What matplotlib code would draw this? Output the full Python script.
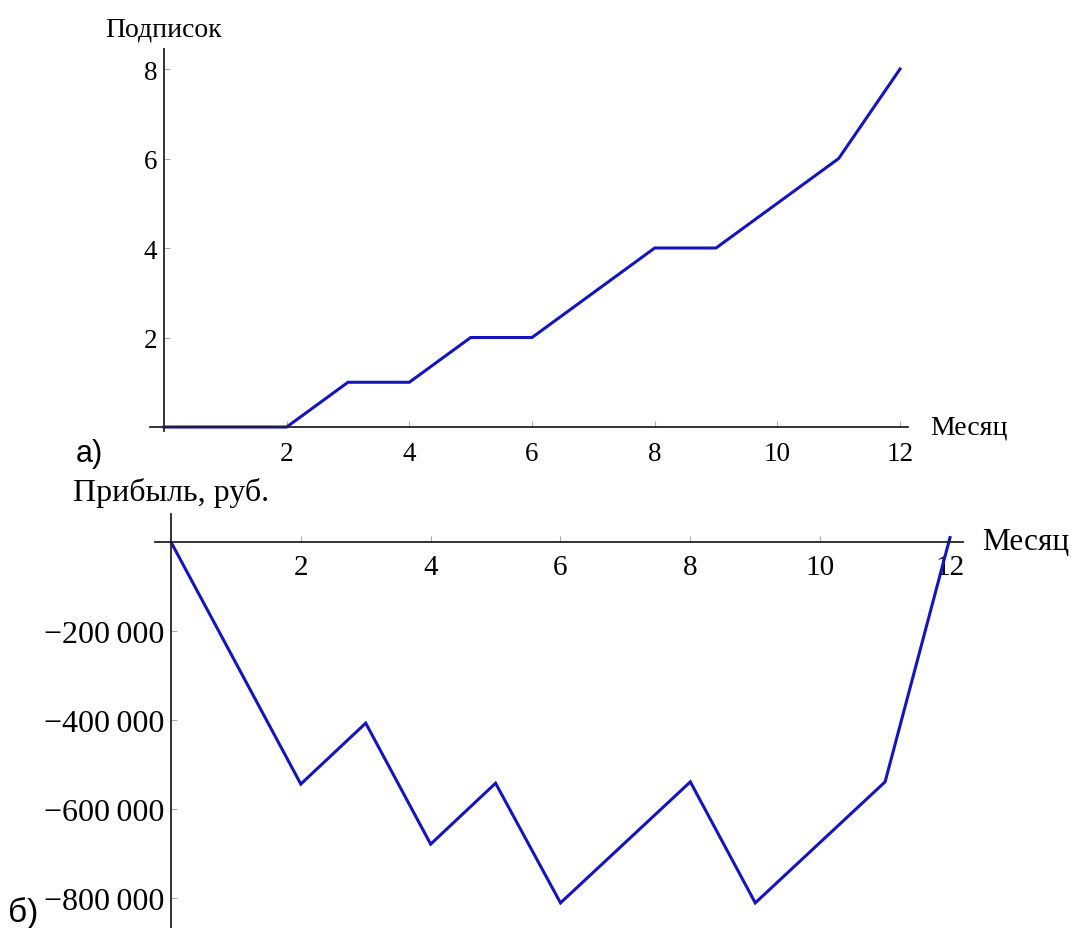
import matplotlib
matplotlib.use("Agg")
import matplotlib.pyplot as plt
from matplotlib.ticker import FixedLocator, FixedFormatter

# ---- data ----
months = [0, 1, 2, 3, 4, 5, 6, 7, 8, 9, 10, 11, 12]
subscriptions = [0, 0, 0, 1, 1, 2, 2, 3, 4, 4, 5, 6, 8]
profit = [0, -272000, -544000, -407000, -679000, -542000, -811000,
          -675000, -539000, -811000, -675000, -539000, 10000]

top_xticks = [2, 4, 6, 8, 10, 12]
top_yticks = [2, 4, 6, 8]
bot_xticks = [2, 4, 6, 8, 10, 12]
bot_yticks = [-200000, -400000, -600000, -800000]
bot_ylabels = ["\u2212200\u2009000", "\u2212400\u2009000", "\u2212600\u2009000", "\u2212800\u2009000"]

top_ylabel = "Подписок"
xlabel = "Месяц"
bot_ylabel = "Прибыль, руб."

W, H = 1072, 929
fig = plt.figure(figsize=(W / 100, H / 100), dpi=100)
fig.patch.set_facecolor("white")

def rect(l, t, r, b):
    return [l / W, 1 - b / H, (r - l) / W, (b - t) / H]

serif = ["Liberation Serif", "DejaVu Serif"]
sans = ["Liberation Sans", "DejaVu Sans"]
line_color = "#1414c0"
axis_color = "#222222"

def style_axes(ax, xfs, yfs, xpad, ypad):
    for s in ["top", "right"]:
        ax.spines[s].set_visible(False)
    ax.spines["left"].set_position(("data", 0))
    ax.spines["bottom"].set_position(("data", 0))
    for s in ["left", "bottom"]:
        ax.spines[s].set_color(axis_color)
        ax.spines[s].set_linewidth(1.3)
    ax.tick_params(axis="both", which="major", direction="in", length=4,
                   width=0.8, color="#aaaaaa")
    ax.tick_params(axis="x", pad=xpad, labelsize=xfs)
    ax.tick_params(axis="y", pad=ypad, labelsize=yfs)
    for lab in ax.get_xticklabels() + ax.get_yticklabels():
        lab.set_fontfamily(serif)
    ax.patch.set_alpha(0)

# ---- top chart ----
ax1 = fig.add_axes(rect(150, 50, 908, 432))
ax1.plot(months, subscriptions, color=line_color, lw=2.2, solid_joinstyle="miter")
ax1.set_xlim(-0.228, 12.13)
ax1.set_ylim(-0.089, 8.447)
ax1.xaxis.set_major_locator(FixedLocator(top_xticks))
ax1.yaxis.set_major_locator(FixedLocator(top_yticks))
style_axes(ax1, 19.5, 19.5, 10, 5)

fig.text(105 / W, 1 - 36 / H, top_ylabel, fontsize=20, family=serif,
         ha="left", va="baseline")
fig.text(930 / W, 1 - 428 / H, xlabel, fontsize=20, family=serif,
         ha="left", va="center")
fig.text(76 / W, 1 - 462 / H, "а)", fontsize=22, family=sans,
         ha="left", va="baseline")

# ---- bottom chart ----
ax2 = fig.add_axes(rect(155, 515, 963, 929))
ax2.plot(months, profit, color=line_color, lw=2.2, solid_joinstyle="miter")
ax2.set_xlim(-0.246, 12.2)
ax2.set_ylim(-867416, 62921)
ax2.xaxis.set_major_locator(FixedLocator(bot_xticks))
ax2.yaxis.set_major_locator(FixedLocator(bot_yticks))
ax2.yaxis.set_major_formatter(FixedFormatter(bot_ylabels))
style_axes(ax2, 21, 23, 9, 5)

fig.text(73 / W, 1 - 501 / H, bot_ylabel, fontsize=23, family=serif,
         ha="left", va="baseline")
fig.text(982 / W, 1 - 543 / H, xlabel, fontsize=22.5, family=serif,
         ha="left", va="center")
fig.text(8 / W, 1 - 922 / H, "б)", fontsize=24, family=sans,
         ha="left", va="baseline")

fig.savefig("out.png", dpi=100)
